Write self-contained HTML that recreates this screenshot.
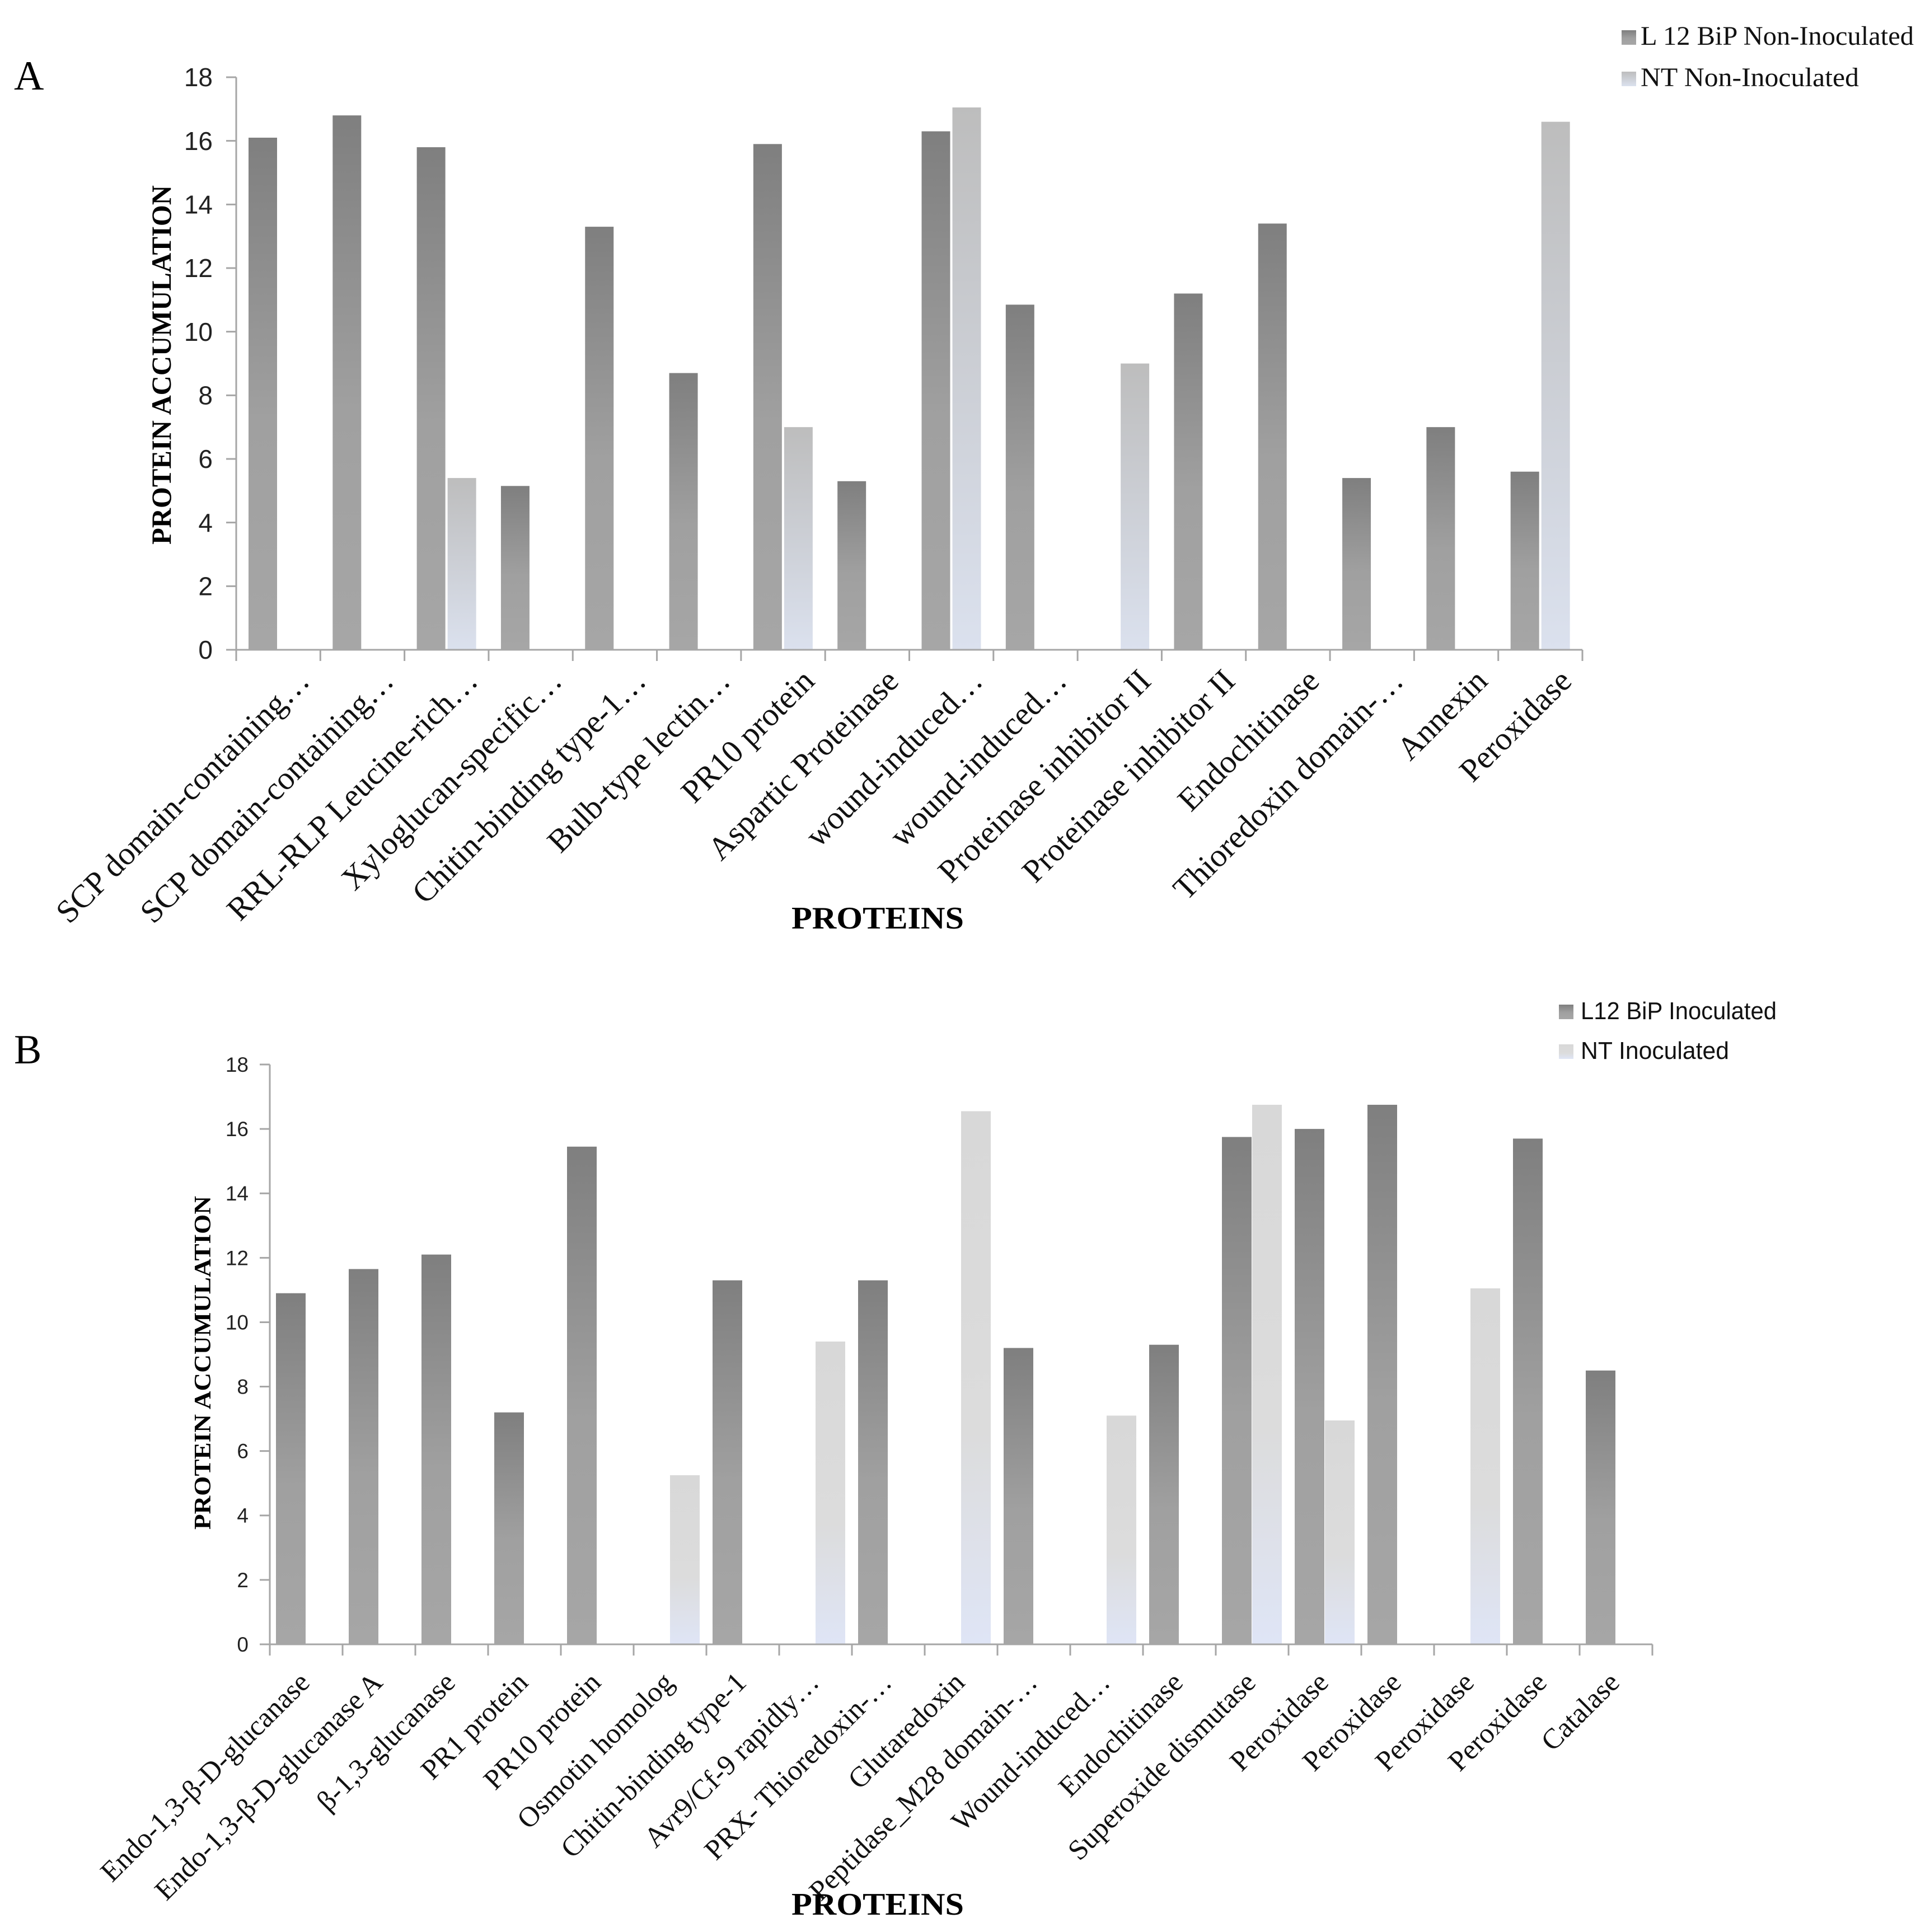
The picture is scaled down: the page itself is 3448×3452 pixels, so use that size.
<!DOCTYPE html>
<html><head><meta charset="utf-8"><style>
html,body{margin:0;padding:0;background:#fff;}
svg{display:block;}
</style></head><body>
<svg id="fig" xmlns="http://www.w3.org/2000/svg" width="3448" height="3452" viewBox="0 0 3448 3452">
<defs>
<linearGradient id="gDark" x1="0" y1="0" x2="0" y2="1"><stop offset="0" stop-color="#7f7f7f"/><stop offset="0.55" stop-color="#a0a0a0"/><stop offset="1" stop-color="#a6a6a6"/></linearGradient>
<linearGradient id="gNTA" x1="0" y1="0" x2="0" y2="1"><stop offset="0" stop-color="#bdbdbd"/><stop offset="1" stop-color="#dbe1ee"/></linearGradient>
<linearGradient id="gNTB" x1="0" y1="0" x2="0" y2="1"><stop offset="0" stop-color="#d8d8d8"/><stop offset="0.6" stop-color="#dcdcdc"/><stop offset="1" stop-color="#dfe5f6"/></linearGradient>
</defs>
<text x="25" y="160" font-family="Liberation Serif, serif" font-size="74">A</text>
<text x="25" y="1900" font-family="Liberation Serif, serif" font-size="74">B</text>
<g id="chartA"></g>
<g id="chartB"></g>
</svg>
<script>
const catsA = ["SCP domain-containing…","SCP domain-containing…","RRL-RLP Leucine-rich…","Xyloglucan-specific…","Chitin-binding type-1…","Bulb-type lectin…","PR10 protein","Aspartic Proteinase","wound-induced…","wound-induced…","Proteinase inhibitor II","Proteinase inhibitor II","Endochitinase","Thioredoxin domain-…","Annexin","Peroxidase"];
const l12A = [16.1,16.8,15.8,5.15,13.3,8.7,15.9,5.3,16.3,10.85,0,11.2,13.4,5.4,7.0,5.6];
const ntA  = [0,0,5.4,0,0,0,7.0,0,17.05,0,9.0,0,0,0,0,16.6];
const catsB = ["Endo-1,3-β-D-glucanase","Endo-1,3-β-D-glucanase A","β-1,3-glucanase","PR1 protein","PR10 protein","Osmotin homolog","Chitin-binding type-1","Avr9/Cf-9 rapidly…","PRX- Thioredoxin-…","Glutaredoxin","Peptidase_M28 domain-…","Wound-induced…","Endochitinase","Superoxide dismutase","Peroxidase","Peroxidase","Peroxidase","Peroxidase","Catalase"];
const l12B = [10.9,11.65,12.1,7.2,15.45,0,11.3,0,11.3,0,9.2,0,9.3,15.75,16.0,16.75,0,15.7,8.5];
const ntB  = [0,0,0,0,0,5.25,0,9.4,0,16.55,0,7.1,0,16.75,6.95,0,11.05,0,0];
const yTicks = [0,2,4,6,8,10,12,14,16,18];
const legA = ["L 12 BiP Non-Inoculated","NT Non-Inoculated"];
const legB = ["L12 BiP Inoculated","NT Inoculated"];

const NS="http://www.w3.org/2000/svg";
function mk(parent,tag,attrs,txt){const e=document.createElementNS(NS,tag);for(const k in attrs)e.setAttribute(k,attrs[k]);if(txt!==undefined)e.textContent=txt;parent.appendChild(e);return e;}

function drawChart(g,cfg){
  const {x0,x1,yTop,y0,cats,s1,s2,ntFill,barOff,barW,barGap,tickFont,tickRight,labelFont,capOff,ltx,lty,titleX,titleY,titleLen,titleFont,legX,legY,legGap,legFont,legFam,legLen,legTextDx,leg,panel} = cfg;
  const n=cats.length, cw=(x1-x0)/n;
  const yS=v=>y0-(v/18)*(y0-yTop);
  const xS=i=>x0+i*cw;
  let e=mk(g,'line',{x1:x0,y1:yTop,x2:x0,y2:y0,stroke:'#a6a6a6','stroke-width':3});
  
  
  yTicks.forEach(t=>{
    let tl=mk(g,'line',{x1:x0-18,y1:yS(t),x2:x0,y2:yS(t),stroke:'#a6a6a6','stroke-width':3});
    
    
    let tx=mk(g,'text',{x:tickRight,y:yS(t)+tickFont*0.35,'text-anchor':'end','font-family':'Liberation Sans, sans-serif','font-size':tickFont,fill:'#222'},String(t));
    
    
  });
  for(let i=0;i<n;i++){
    const bx=xS(i)+barOff;
    if(s1[i]>0){
      let r=mk(g,'rect',{x:bx,y:yS(s1[i]),width:barW,height:y0-yS(s1[i]),fill:'url(#gDark)'});
      
      
    }
    if(s2[i]>0){
      let r=mk(g,'rect',{x:bx+barW+barGap,y:yS(s2[i]),width:barW,height:y0-yS(s2[i]),fill:ntFill});
      
      
    }
  }
  e=mk(g,'line',{x1:x0,y1:y0,x2:x1,y2:y0,stroke:'#a6a6a6','stroke-width':3});
  
  
  for(let i=0;i<=n;i++){
    let tl=mk(g,'line',{x1:xS(i),y1:y0,x2:xS(i),y2:y0+20,stroke:'#a6a6a6','stroke-width':3});
    
    
  }
  for(let i=0;i<n;i++){
    const ax=xS(i)+cw/2+ltx+capOff, ay=y0+lty+capOff;
    let t=mk(g,'text',{x:ax,y:ay,'text-anchor':'end','font-family':'Liberation Serif, serif','font-size':labelFont,fill:'#111',transform:`rotate(-45 ${ax} ${ay})`},cats[i]);
    
    
  }
  let yt=mk(g,'text',{x:titleX,y:titleY,'text-anchor':'middle','font-family':'Liberation Serif, serif','font-weight':'bold','font-size':titleFont,textLength:titleLen,lengthAdjust:'spacingAndGlyphs',transform:`rotate(-90 ${titleX} ${titleY})`},'PROTEIN ACCUMULATION');
  
  
  let xt=mk(g,'text',{x:1414,y:cfg.xtY,'font-family':'Liberation Serif, serif','font-weight':'bold','font-size':56,textLength:308,lengthAdjust:'spacingAndGlyphs'},'PROTEINS');
  
  
  const fills=['url(#gDark)',ntFill];
  leg.forEach((s,k)=>{
    const ly=legY+k*legGap;
    let sq=mk(g,'rect',{x:legX,y:ly-26,width:26,height:26,fill:fills[k]});
    
    
    let lt=mk(g,'text',{x:legX+legTextDx,y:ly,'font-family':legFam,'font-size':legFont,fill:'#111',textLength:legLen[k],lengthAdjust:'spacingAndGlyphs'},s);
    
    
  });
}

drawChart(document.getElementById('chartA'),{panel:'a',x0:422,x1:2827,yTop:138,y0:1161,cats:catsA,s1:l12A,s2:ntA,ntFill:'url(#gNTA)',
  barOff:22,barW:51,barGap:4,tickFont:46,tickRight:380,labelFont:58,capOff:27,ltx:32,lty:32,
  titleX:305,titleY:652,titleLen:642,titleFont:50,xtY:1659,
  legX:2897,legY:80,legGap:74,legFont:48,legFam:'Liberation Serif, serif',legLen:[488,390],legTextDx:34,leg:legA});
drawChart(document.getElementById('chartB'),{panel:'b',x0:482,x1:2952,yTop:1902,y0:2938,cats:catsB,s1:l12B,s2:ntB,ntFill:'url(#gNTB)',
  barOff:11,barW:53,barGap:1,tickFont:37,tickRight:444,labelFont:51,capOff:23,ltx:-14,lty:48,
  titleX:376,titleY:2435,titleLen:596,titleFont:42,xtY:3421,
  legX:2785,legY:1821,legGap:71,legFont:44,legFam:'Liberation Sans, sans-serif',legLen:[350,265],legTextDx:39,leg:legB});
</script>
</body></html>
